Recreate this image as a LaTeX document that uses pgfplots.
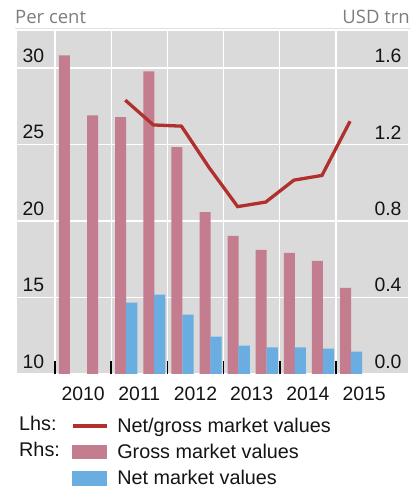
\documentclass[border=0pt]{standalone}
\usepackage{fontspec}
\setmainfont{Liberation Sans}
\newfontfamily\headfont{Open Sans}
\usepackage{pgfplots}
\pgfplotsset{compat=1.18}
\definecolor{bggray}{RGB}{218,218,218}
\definecolor{pinkbar}{RGB}{196,125,142}
\definecolor{bluebar}{RGB}{106,173,224}
\definecolor{linered}{RGB}{176,48,46}
\definecolor{headgray}{RGB}{125,125,125}
\definecolor{sepgray}{RGB}{225,225,225}
\definecolor{txt}{RGB}{20,20,20}
\newcommand{\lblfont}{\fontsize{19.4}{23}\selectfont}
\newcommand{\legfont}{\fontsize{19.8}{23}\selectfont}
\begin{document}
\begin{tikzpicture}[x=1pt,y=1pt]
\useasboundingbox (0,0) rectangle (420,490);
% header
\node[anchor=base west, inner sep=0pt, text=headgray, font=\headfont\fontsize{18.5}{22}\selectfont] at (15,466) {Per cent};
\node[anchor=base east, inner sep=0pt, text=headgray, font=\headfont\fontsize{18.5}{22}\selectfont] at (410,466) {USD trn};
\draw[sepgray, line width=1pt] (15,461.7) -- (410,461.7);
% bars axis (rhs)
\begin{axis}[
  scale only axis, width=391pt, height=343pt,
  at={(17pt,116pt)}, anchor=south west,
  xmin=-0.676, xmax=6.281, ymin=0, ymax=1.7936,
  axis background/.style={fill=bggray},
  axis line style={draw=none},
  axis x line*=bottom, axis y line*=right,
  ytick={0,0.4,0.8,1.2,1.6},
  ymajorgrids,
  grid style={white, line width=1.2pt},
  xtick={0.5,1.5,2.5,3.5,4.5,5.5},
  xticklabels={2010,2011,2012,2013,2014,2015},
  minor xtick={0,1,2,3,4,5},
  xminorgrids,
  minor grid style={white, line width=1.2pt},
  major tick length=0pt,
  minor tick length=13pt,
  tick align=inside,
  minor tick style={black, line width=1.6pt},
  major tick style={draw=none},
  tick label style={font=\lblfont, text=txt},
  /pgf/number format/assume math mode=true,
  yticklabel style={anchor=south east, inner sep=0pt, xshift=-6.3pt, yshift=5.3pt,
    /pgf/number format/.cd, fixed, fixed zerofill, precision=1},
  xticklabel style={anchor=north, inner sep=0pt, yshift=-12.5pt},
  clip=false,
]
\addplot[ybar, bar width=11pt, bar shift=0pt, fill=pinkbar, draw=none] coordinates {
(0.169,1.666) (0.669,1.353) (1.169,1.343) (1.669,1.583) (2.169,1.186) (2.669,0.847)
(3.169,0.722) (3.669,0.649) (4.169,0.634) (4.669,0.592) (5.169,0.451)};
\addplot[ybar, bar width=11.3pt, bar shift=0pt, fill=bluebar, draw=none] coordinates {
(1.365,0.373) (1.865,0.415) (2.365,0.310) (2.865,0.196) (3.365,0.149)
(3.865,0.139) (4.365,0.139) (4.865,0.133) (5.365,0.117)};
\end{axis}
% line axis (lhs)
\begin{axis}[
  scale only axis, width=391pt, height=343pt,
  at={(17pt,116pt)}, anchor=south west,
  xmin=-0.676, xmax=6.281, ymin=10, ymax=32.42,
  axis line style={draw=none},
  hide x axis, axis y line*=left,
  ytick={10,15,20,25,30},
  major tick length=0pt,
  tick label style={font=\lblfont, text=txt},
  /pgf/number format/assume math mode=true,
  yticklabel style={anchor=south west, inner sep=0pt, xshift=5.3pt, yshift=5.3pt},
  clip=false,
  legend style={at={(axis description cs:0.1381,-0.1466)}, anchor=north west,
    draw=none, fill=none, inner sep=0pt, outer sep=0pt, row sep=12.2pt,
    font=\legfont, text=txt,
    cells={anchor=base west},
    nodes={inner sep=0pt, text height=0.70em, text depth=0pt},
    /tikz/every odd column/.style={column sep=9pt}},
]
\addplot[linered, line width=3.3pt, forget plot] coordinates {
(1.25,27.9) (1.75,26.28) (2.25,26.2) (2.75,23.45) (3.25,20.94)
(3.75,21.24) (4.25,22.67) (4.75,22.98) (5.25,26.52)};
\addlegendimage{legend image code/.code={\draw[linered, line width=3.3pt] (0pt,6.95pt) -- (34pt,6.95pt);}}
\addlegendentry{Net/gross market values}
\addlegendimage{legend image code/.code={\fill[pinkbar] (0pt,0.25pt) rectangle (34pt,13.65pt);}}
\addlegendentry{Gross market values}
\addlegendimage{legend image code/.code={\fill[bluebar] (0pt,0.25pt) rectangle (34pt,13.65pt);}}
\addlegendentry{Net market values}
\end{axis}
\node[anchor=base west, inner sep=0pt, font=\legfont, text=txt] at (19,59.3) {Lhs:};
\node[anchor=base west, inner sep=0pt, font=\legfont, text=txt] at (19,33.3) {Rhs:};
\end{tikzpicture}
\end{document}
